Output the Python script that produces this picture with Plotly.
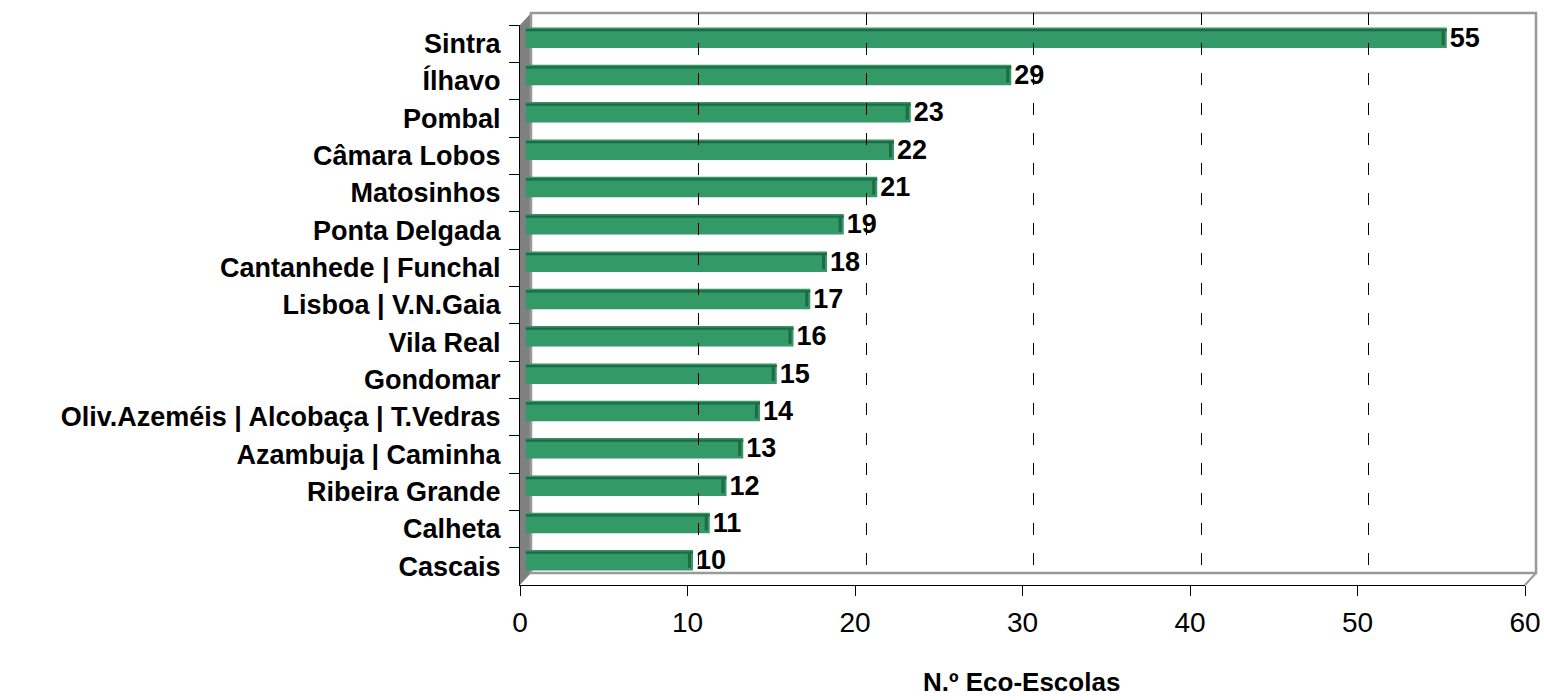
import plotly.graph_objects as go

categories = ["Sintra", "Ílhavo", "Pombal", "Câmara Lobos", "Matosinhos", "Ponta Delgada",
              "Cantanhede | Funchal", "Lisboa | V.N.Gaia", "Vila Real", "Gondomar",
              "Oliv.Azeméis | Alcobaça | T.Vedras", "Azambuja | Caminha", "Ribeira Grande",
              "Calheta", "Cascais"]
values = [55, 29, 23, 22, 21, 19, 18, 17, 16, 15, 14, 13, 12, 11, 10]
x_ticks = [0, 10, 20, 30, 40, 50, 60]
grid_ticks = [10, 20, 30, 40, 50]
axis_title = "N.º Eco-Escolas"

W, H = 1544, 700
L, R, T, B = 520, 8, 13, 115
PW, PH = W - L - R, H - T - B
DX, DY = 11, 12  # 3D depth in px

def fx(px):
    return (px - L) / PW

def fy(py):
    return (H - B - py) / PH

FONT = "Liberation Sans, Arial, sans-serif"
GREEN = "#339966"
DARK = "#1f6b45"

fig = go.Figure()

fig.add_trace(go.Scatter(x=values, y=categories, xaxis="x", yaxis="y", mode="markers",
                         marker=dict(opacity=0), hoverinfo="skip", showlegend=False))
fig.add_trace(go.Scatter(x=values, y=categories, xaxis="x3", yaxis="y3", mode="markers",
                         marker=dict(opacity=0), hoverinfo="skip", showlegend=False))

fig.add_trace(go.Bar(x=values, y=categories, orientation="h", xaxis="x2", yaxis="y2",
                     marker=dict(color=GREEN, line=dict(width=0)), width=0.55,
                     text=[str(v) for v in values], textposition="outside",
                     constraintext="none",
                     textfont=dict(family=FONT, size=27, color="black", weight="bold"),
                     cliponaxis=False, showlegend=False))
fig.add_trace(go.Bar(x=values, y=categories, orientation="h", xaxis="x2", yaxis="y2",
                     marker=dict(color=DARK, line=dict(width=0)), width=0.06, offset=-0.235,
                     hoverinfo="skip", showlegend=False))
fig.add_trace(go.Bar(x=[0.18] * len(values), base=[v - 0.3 for v in values], y=categories,
                     orientation="h", xaxis="x2", yaxis="y2",
                     marker=dict(color=DARK, line=dict(width=0)), width=0.4,
                     hoverinfo="skip", showlegend=False))

ncat = len(categories)
yrange = [ncat - 0.5, -0.5]

fig.update_layout(
    width=W, height=H, autosize=False,
    margin=dict(l=L, r=R, t=T, b=B, pad=0, autoexpand=False),
    paper_bgcolor="white", plot_bgcolor="rgba(0,0,0,0)",
    barmode="overlay",
    font=dict(family=FONT, color="black"),
    xaxis=dict(domain=[0, fx(L + PW - DX)], range=[0, 60], anchor="y", automargin=False,
               tickvals=x_ticks, ticks="outside", ticklen=10, tickcolor="black",
               showline=True, linecolor="black", linewidth=1, showgrid=False,
               zeroline=False, ticklabelstandoff=2,
               tickfont=dict(size=28, color="black", family=FONT)),
    yaxis=dict(domain=[0, fy(T + DY)], range=yrange, anchor="x", type="category",
               automargin=False,
               categoryorder="array", categoryarray=categories,
               ticks="outside", ticklen=10, tickcolor="black", tickson="boundaries",
               showline=True, linecolor="black", linewidth=1, showgrid=False,
               ticklabelstandoff=13,
               tickfont=dict(size=27, color="black", family=FONT, weight="bold")),
    xaxis2=dict(domain=[fx(L + DX / 2), fx(L + PW - DX / 2)], range=[0, 60], anchor="y2",
                automargin=False,
                showticklabels=False, showgrid=False, zeroline=False, showline=False, ticks=""),
    yaxis2=dict(domain=[fy(H - B - DY / 2), fy(T + DY / 2)], range=yrange, anchor="x2",
                automargin=False,
                type="category", categoryorder="array", categoryarray=categories,
                showticklabels=False, showgrid=False, showline=False, ticks=""),
    xaxis3=dict(domain=[fx(L + DX), 1], range=[0, 60], anchor="y3", automargin=False,
                tickvals=grid_ticks, showticklabels=False, ticks="",
                showgrid=True, gridcolor="black", gridwidth=1, griddash="12px,18px",
                zeroline=False, showline=False),
    yaxis3=dict(domain=[fy(H - B - DY), 1], range=yrange, anchor="x3", automargin=False,
                type="category", categoryorder="array", categoryarray=categories,
                showticklabels=False, showgrid=False, showline=False, ticks=""),
    shapes=[
        dict(type="path", xref="paper", yref="paper", layer="below",
             path=f"M {fx(L)},{fy(H-B)} L {fx(L)},{fy(T+DY)} L {fx(L+DX)},{fy(T)} L {fx(L+DX)},{fy(H-B-DY)} Z",
             fillcolor="#808080", line=dict(width=0)),
        dict(type="rect", xref="paper", yref="paper", layer="below",
             x0=fx(L + DX), x1=fx(L + PW), y0=fy(H - B - DY), y1=fy(T),
             line=dict(color="#999999", width=2.5), fillcolor="rgba(0,0,0,0)"),
        dict(type="line", xref="paper", yref="paper", layer="below",
             x0=fx(L + PW - DX), y0=fy(H - B), x1=fx(L + PW), y1=fy(H - B - DY),
             line=dict(color="#999999", width=2)),
    ],
    annotations=[
        dict(text=axis_title, xref="paper", yref="paper", x=fx(1021), y=fy(682),
             xanchor="center", yanchor="middle", showarrow=False,
             font=dict(size=26, family=FONT, color="black", weight="bold")),
    ],
)

fig.write_html("out.html",
               config={"responsive": False, "displayModeBar": False},
               post_script="document.body.style.margin='0';document.body.style.overflow='hidden';")
